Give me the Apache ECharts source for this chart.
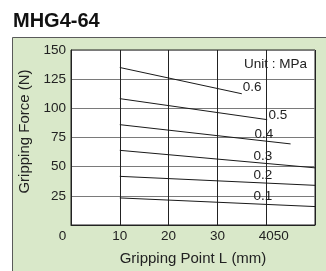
<!DOCTYPE html>
<html>
<head>
<meta charset="utf-8">
<script src="https://cdn.jsdelivr.net/npm/echarts@6/dist/echarts.min.js"></script>
<style>
  html, body { margin: 0; padding: 0; background: #fff; }
  #pic1 { width: 326px; height: 271px; }
</style>
</head>
<body>
<div id="pic1"></div>
<script>
// pressure levels (MPa)
var pressures = ['0.6', '0.5', '0.4', '0.3', '0.2', '0.1'];
// each line: [start L, start force, end L, end force]
var lineStartL = [10, 10, 10, 10, 10, 10];
var lineStartF = [135, 108.3, 86, 64, 41.7, 23.2];
var lineEndL   = [35, 40.2, 45, 50, 50, 50];
var lineEndF   = [112.5, 90.3, 69.5, 49, 34, 15.8];
// where the pressure tags sit (data units)
var tagL = [37.1, 42.4, 39.5, 39.3, 39.3, 39.3];
var tagF = [118.3, 94.2, 77.5, 59.2, 42.5, 24.2];
var xTickLabels = ['0', '10', '20', '30', '40', '50'];

var pic1 = echarts.init(document.getElementById('pic1'));
var font = 'Liberation Sans, Arial, sans-serif';

var series = pressures.map(function (p, i) {
    return {
        type: 'line',
        name: p,
        data: [[lineStartL[i], lineStartF[i]], [lineEndL[i], lineEndF[i]]],
        symbol: 'none',
        lineStyle: { color: '#1a1a1a', width: 1 },
        silent: true,
        markPoint: {
            symbol: 'circle',
            symbolSize: 0,
            label: { show: true, position: 'inside', formatter: p, color: '#222', fontSize: 13.5, fontFamily: font },
            data: [{ coord: [tagL[i], tagF[i]] }]
        }
    };
});

var option = {
    animation: false,
    graphic: [
        { type: 'rect', shape: { x: 12.5, y: 37.5, width: 330, height: 250 },
          style: { fill: '#d9e8c9', stroke: '#5a5a5a', lineWidth: 1 }, z: -10 },
        { type: 'text', left: 13, top: 11,
          style: { text: 'MHG4-64', font: 'bold 20px ' + font, fill: '#111' } },
        { type: 'text', right: 19, top: 57,
          style: { text: 'Unit : MPa', font: '13.5px ' + font, fill: '#222' }, z: 10 }
    ],
    grid: {
        left: 71, top: 50, right: 11, bottom: 41,
        show: true, backgroundColor: '#fff', borderColor: '#222', borderWidth: 1
    },
    xAxis: {
        type: 'value', min: 0, max: 50, interval: 10,
        name: 'Gripping Point L (mm)', nameLocation: 'middle', nameGap: 26,
        nameTextStyle: { fontSize: 15, color: '#222', fontFamily: font },
        axisLine: { show: true, lineStyle: { color: '#222' } },
        axisTick: { show: false },
        splitLine: { show: true, lineStyle: { color: '#222', width: 1 } },
        axisLabel: {
            margin: 4, fontSize: 13.5, color: '#222', fontFamily: font,
            formatter: function (v) {
                var t = xTickLabels[v / 10];
                if (v === 0) return '{o|' + t + '}';
                if (v === 40) return '{f|' + t + xTickLabels[5] + '}';
                if (v === 50) return '';
                return t;
            },
            rich: {
                o: { padding: [0, 17, 0, 0], fontSize: 13.5, color: '#222', fontFamily: font },
                f: { padding: [0, 0, 0, 15], fontSize: 13.5, color: '#222', fontFamily: font }
            }
        }
    },
    yAxis: {
        type: 'value', min: 0, max: 150, interval: 25,
        name: 'Gripping Force (N)', nameLocation: 'middle', nameGap: 38,
        nameTextStyle: { fontSize: 15, color: '#222', fontFamily: font, padding: [0, 0, 0, 12] },
        axisLine: { show: true, lineStyle: { color: '#222' } },
        axisTick: { show: false },
        splitLine: { show: true, lineStyle: { color: '#7a7a7a', width: 1 } },
        axisLabel: {
            margin: 5, fontSize: 13.5, color: '#222', fontFamily: font,
            formatter: function (v) { return v === 0 ? '' : String(v); }
        }
    },
    series: series
};

pic1.setOption(option);
</script>
</body>
</html>
